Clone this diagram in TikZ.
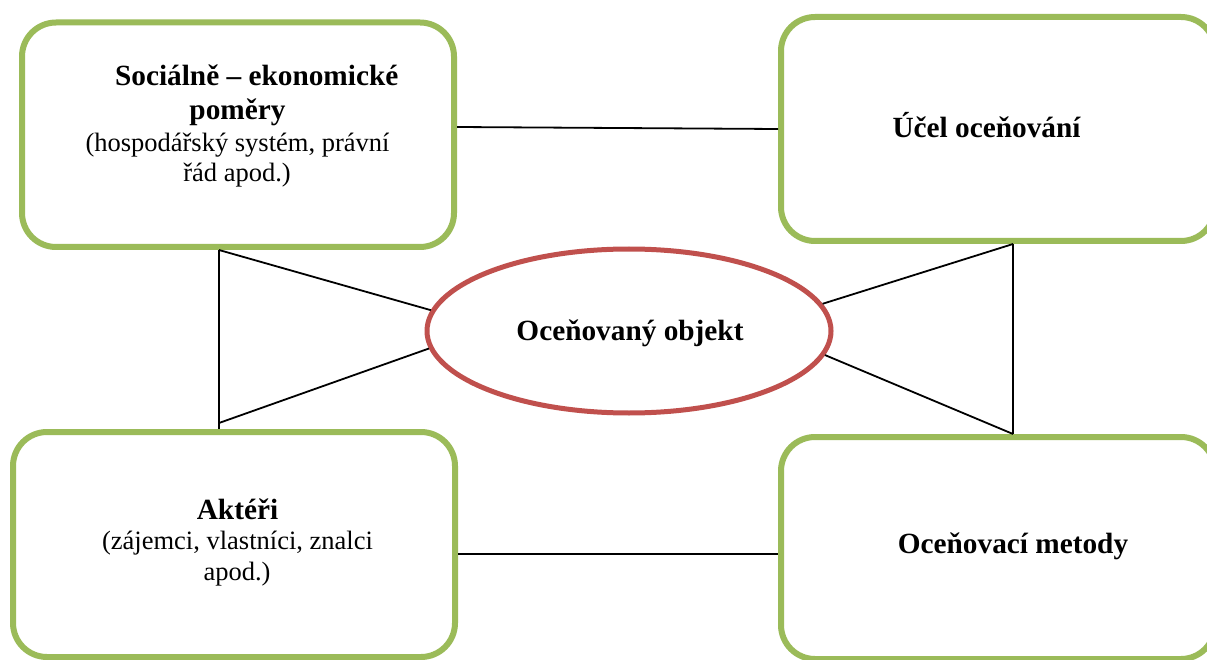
\documentclass[tikz,border=0pt]{standalone}
\usepackage{fontspec}
\setmainfont{Liberation Serif}
\usetikzlibrary{shapes.geometric,calc}
\definecolor{boxgreen}{HTML}{9BBB59}
\definecolor{ovalred}{HTML}{C0504D}
\begin{document}
\begin{tikzpicture}[x=1pt,y=-1pt,
  panel/.style={rectangle, draw=boxgreen, fill=white, line width=6pt,
    rounded corners=34pt, inner sep=0pt, outer sep=3pt},
  hub/.style={ellipse, draw=ovalred, fill=white, line width=5pt,
    inner sep=0pt, outer sep=2.5pt, minimum width=404pt, minimum height=164pt},
  title/.style={anchor=base, inner sep=0pt, font=\fontsize{29.3}{34}\selectfont\bfseries},
  note/.style={anchor=base, inner sep=0pt, font=\fontsize{26.5}{30}\selectfont},
  link/.style={draw=black, line width=1.8pt}]
\useasboundingbox (0,0) rectangle (1207,660);
\clip (0,0) rectangle (1207,660);
\fill[white] (0,0) rectangle (1207,660);

% four framed panels and the central oval
\node[panel, minimum width=432pt, minimum height=224.5pt] (soc) at (238,134.75) {};
\node[panel, minimum width=434pt, minimum height=224pt] (ucel) at (998,129) {};
\node[panel, minimum width=442pt, minimum height=225pt] (akt) at (234,544.5) {};
\node[panel, minimum width=434pt, minimum height=222pt] (met) at (998,548) {};
\node[hub] (obj) at (629,331) {};

% helper positions for the connector columns and the lower link
\coordinate (lx) at (219,0);
\coordinate (rx) at (1013,0);
\coordinate (lowy) at (0,554);

% horizontal links between the panels
\draw[link] ($(soc.east |- ucel.west)+(0,-2)$) -- (ucel.west);
\draw[link] (akt.east |- lowy) -- (met.west |- lowy);

% left wedge
\draw[link] (soc.south -| lx) -- (akt.north -| lx);
\draw[link] (soc.south -| lx) -- (obj.174);
\draw[link] ($(akt.north -| lx)+(0,-6)$) -- (obj.185);

% right wedge
\draw[link] (ucel.south -| rx) -- (met.north -| rx);
\draw[link] (obj.8.5) -- (ucel.south -| rx);
\draw[link] (obj.353) -- (met.north -| rx);

% texts
\node[title] (socA) at (256.7,86) {Sociálně – ekonomické};
\node[title] (socB) at (237.5,120) {poměry};
\node[note] (socC) at (237.5,151.5) {(hospodářský systém, právní};
\node[note] (socD) at (237,181.5) {řád apod.)};
\node[title] (ucelT) at (986.5,138) {Účel oceňování};
\node[title] (objT) at (630,340) {Oceňovaný objekt};
\node[title] (aktA) at (237.5,519) {Aktéři};
\node[note] (aktB) at (237.5,549) {(zájemci, vlastníci, znalci};
\node[note] (aktC) at (237,580) {apod.)};
\node[title] (metT) at (1013,553) {Oceňovací metody};
\end{tikzpicture}
\end{document}
